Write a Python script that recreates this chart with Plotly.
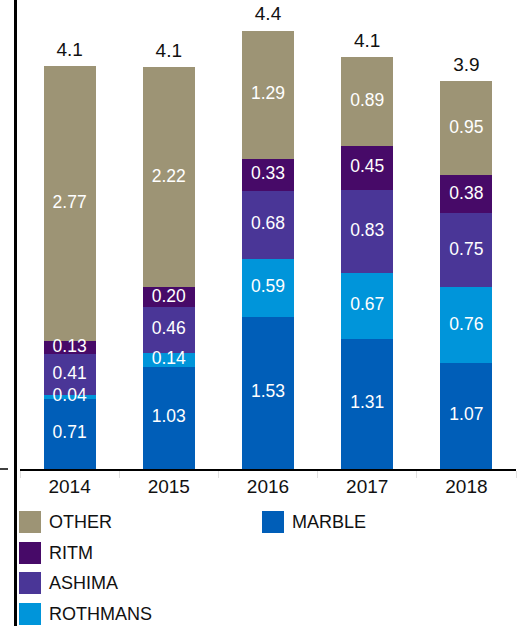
import plotly.graph_objects as go

years = ["2014", "2015", "2016", "2017", "2018"]
marble = [0.71, 1.03, 1.53, 1.31, 1.07]
rothmans = [0.04, 0.14, 0.59, 0.67, 0.76]
ashima = [0.41, 0.46, 0.68, 0.83, 0.75]
ritm = [0.13, 0.20, 0.33, 0.45, 0.38]
other = [2.77, 2.22, 1.29, 0.89, 0.95]
totals = [4.1, 4.1, 4.4, 4.1, 3.9]

series = [
    ("MARBLE", marble, "#005eb8"),
    ("ROTHMANS", rothmans, "#0095da"),
    ("ASHIMA", ashima, "#4a3697"),
    ("RITM", ritm, "#470a68"),
    ("OTHER", other, "#9d9475"),
]

W, H = 518, 626
L, R, T, B = 20, 2, 0, 157
PW, PH = W - L - R, H - T - B
FONT = "Liberation Sans, Arial, sans-serif"


def px(x):
    return (x - L) / PW


def py(y):
    return (H - B - y) / PH


fig = go.Figure()
for name, vals, col in series:
    fig.add_trace(go.Bar(
        x=years, y=vals, name=name, marker=dict(color=col, line=dict(width=0)),
        showlegend=False, hoverinfo="skip",
    ))

# segment labels drawn on top of all bars
base = [0.0] * len(years)
for name, vals, col in series:
    mids = [b + v / 2 for b, v in zip(base, vals)]
    fig.add_trace(go.Scatter(
        x=years, y=mids, mode="text", text=[f"{v:.2f}" for v in vals],
        textposition="middle center", textfont=dict(size=17.5, color="white", family=FONT),
        showlegend=False, cliponaxis=False, hoverinfo="skip",
    ))
    base = [b + v for b, v in zip(base, vals)]

fig.add_trace(go.Scatter(
    x=years, y=base, mode="markers+text", text=[f"{t:.1f}" for t in totals],
    marker=dict(size=7, color="rgba(0,0,0,0)"),
    textposition="top center", textfont=dict(size=19, color="#111111", family=FONT),
    showlegend=False, cliponaxis=False, hoverinfo="skip",
))

shapes = []
annotations = []
shapes.append(dict(type="line", xref="paper", yref="paper", x0=px(15.5), x1=px(15.5),
                   y0=py(H + 2), y1=py(-2), line=dict(color="black", width=3)))
shapes.append(dict(type="line", xref="paper", yref="paper", x0=px(0), x1=px(8),
                   y0=0, y1=0, line=dict(color="black", width=1.5)))

legend_items = [
    ("OTHER", "#9d9475", 19, 511),
    ("RITM", "#470a68", 19, 542),
    ("ASHIMA", "#4a3697", 19, 572),
    ("ROTHMANS", "#0095da", 19, 603),
    ("MARBLE", "#005eb8", 262, 511),
]
for name, col, x0, y0 in legend_items:
    shapes.append(dict(type="rect", xref="paper", yref="paper", x0=px(x0), x1=px(x0 + 22),
                       y0=py(y0 + 22), y1=py(y0), fillcolor=col, line=dict(width=0)))
    annotations.append(dict(xref="paper", yref="paper", x=px(x0 + 28), y=py(y0 + 11),
                            xanchor="left", yanchor="middle", text=name, showarrow=False,
                            font=dict(size=18, color="#111111", family=FONT)))

fig.update_layout(
    width=W, height=H, margin=dict(l=L, r=R, t=T, b=B, pad=0),
    barmode="stack", bargap=0.475,
    plot_bgcolor="white", paper_bgcolor="white",
    font=dict(family=FONT, size=18, color="#111111"),
    shapes=shapes, annotations=annotations,
    xaxis=dict(type="category", showline=True, linecolor="black", linewidth=1.5,
               ticks="outside", tickson="boundaries", ticklen=7, tickcolor="#e0e0e0",
               tickwidth=1, tickfont=dict(size=19, color="#111111", family=FONT),
               showgrid=False, zeroline=False, fixedrange=True),
    yaxis=dict(range=[0, PH / 99.2], visible=False, showgrid=False, zeroline=False,
               fixedrange=True),
    showlegend=False,
)

fig.write_html("out.html", config={"displayModeBar": False, "staticPlot": True},
               post_script="document.body.style.margin='0';document.body.style.overflow='hidden';")
